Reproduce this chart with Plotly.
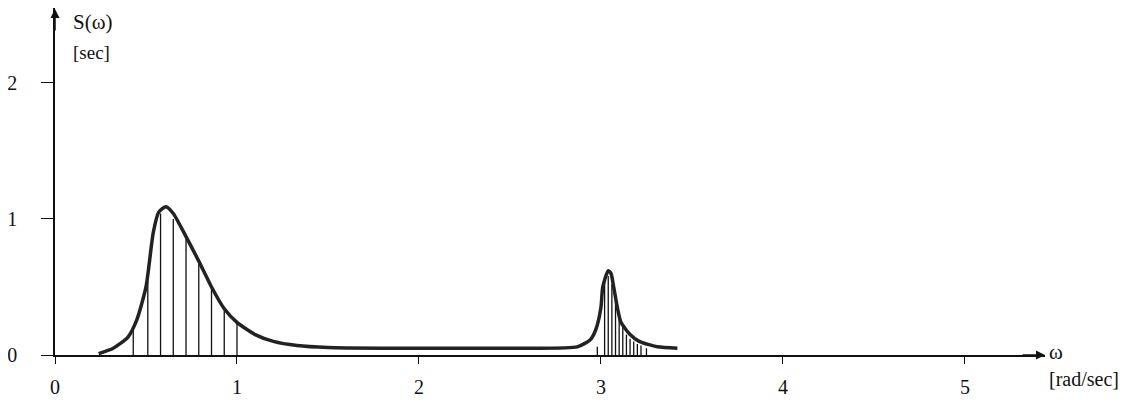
import plotly.graph_objects as go

# spectrum curve
omega = [0.24, 0.32, 0.40, 0.45, 0.50, 0.54, 0.57, 0.61, 0.65, 0.72, 0.79, 0.86, 0.93, 1.00,
         1.10, 1.20, 1.33, 1.50, 1.80, 2.20, 2.60, 2.87, 2.94, 2.96, 2.98, 3.00, 3.01, 3.04,
         3.055, 3.07, 3.09, 3.11, 3.16, 3.21, 3.31, 3.42]
spec = [0.01, 0.05, 0.13, 0.26, 0.50, 0.90, 1.05, 1.09, 1.04, 0.87, 0.69, 0.50, 0.34, 0.24,
        0.15, 0.10, 0.07, 0.055, 0.05, 0.05, 0.05, 0.06, 0.11, 0.15, 0.22, 0.35, 0.50, 0.62,
        0.60, 0.50, 0.35, 0.24, 0.15, 0.10, 0.06, 0.05]

# hatch lines under the two peaks
hatch_w = [0.43, 0.51, 0.58, 0.65, 0.72, 0.79, 0.86, 0.93, 1.00,
           2.98, 3.02, 3.04, 3.06, 3.08, 3.10, 3.12, 3.14, 3.16, 3.18, 3.20, 3.22, 3.25]
hatch_s = [0.18, 0.55, 1.04, 1.00, 0.87, 0.69, 0.49, 0.33, 0.235,
           0.06, 0.57, 0.58, 0.52, 0.40, 0.26, 0.21, 0.15, 0.12, 0.10, 0.08, 0.07, 0.05]

x_ticks = [0, 1, 2, 3, 4, 5]
y_ticks = [0, 1, 2]

serif = "Liberation Serif"

hx, hy = [], []
for w, s in zip(hatch_w, hatch_s):
    hx += [w, w, None]
    hy += [0, s, None]

fig = go.Figure()
fig.add_trace(go.Scatter(x=hx, y=hy, mode="lines", line=dict(color="#111", width=1.3), hoverinfo="skip"))
fig.add_trace(go.Scatter(x=omega, y=spec, mode="lines", line=dict(color="#222", width=3.5, shape="spline", smoothing=0.6)))

# page has an 8px body margin, so the figure is a bit smaller than the window
fig.update_layout(
    width=1126, height=392,
    margin=dict(l=47, r=89, t=0, b=45, autoexpand=False),
    plot_bgcolor="white", paper_bgcolor="white",
    showlegend=False,
    font=dict(family=serif, size=20, color="#111"),
)
fig.update_xaxes(range=[0, 5.44], showline=True, linecolor="#111", linewidth=1.5,
                 ticks="outside", ticklen=7, tickcolor="#111", tickwidth=1.3,
                 tickvals=x_ticks, ticktext=[str(t) for t in x_ticks], automargin=False,
                 showgrid=False, zeroline=False, ticklabelstandoff=6)
fig.update_yaxes(range=[0, 2.55], showline=True, linecolor="#111", linewidth=1.5,
                 ticks="outside", ticklen=12, tickcolor="#111", tickwidth=1.3,
                 tickvals=y_ticks, ticktext=[str(t) for t in y_ticks], automargin=False,
                 showgrid=False, zeroline=False, ticklabelstandoff=20)

# axis arrows
fig.add_annotation(xref="paper", yref="paper", x=1, y=0, ax=-24, ay=0, showarrow=True,
                   arrowhead=2, arrowsize=1.2, arrowwidth=1.5, arrowcolor="#111", text="")
fig.add_annotation(xref="paper", yref="paper", x=0, y=1, ax=0, ay=24, showarrow=True,
                   arrowhead=2, arrowsize=1.2, arrowwidth=1.5, arrowcolor="#111", text="")

# axis labels
fig.add_annotation(xref="paper", yref="paper", x=0.016, y=0.96, text="S(ω)", showarrow=False,
                   xanchor="left", yanchor="middle", font=dict(size=21))
fig.add_annotation(xref="paper", yref="paper", x=0.016, y=0.873, text="[sec]", showarrow=False,
                   xanchor="left", yanchor="middle", font=dict(size=19))
fig.add_annotation(xref="paper", yref="paper", x=1.002, y=0.01, text="ω", showarrow=False,
                   xanchor="left", yanchor="middle", font=dict(size=21))
fig.add_annotation(xref="paper", yref="paper", x=1.002, y=-0.07, text="[rad/sec]", showarrow=False,
                   xanchor="left", yanchor="middle", font=dict(size=20))

fig.write_html("out.html")
